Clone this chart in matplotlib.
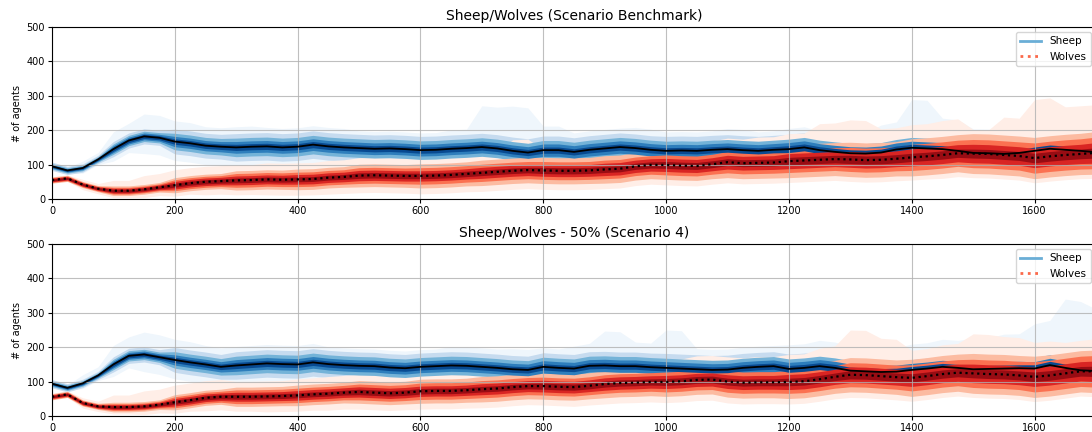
import numpy as np
import matplotlib
matplotlib.use("Agg")
import matplotlib.pyplot as plt
from matplotlib.lines import Line2D

# time steps (every 25 ticks)
steps = list(range(0, 1701, 25))

# medians, top panel (benchmark)
sheep_top = [95, 83, 90, 115, 145, 170, 182, 178, 167, 162,
             155, 152, 150, 152, 153, 150, 152, 158, 153, 150,
             148, 146, 147, 145, 142, 143, 146, 148, 151, 147,
             140, 135, 142, 142, 137, 143, 147, 151, 148, 143,
             140, 141, 140, 143, 145, 142, 140, 143, 145, 150,
             142, 137, 133, 132, 135, 144, 149, 147, 145, 140,
             134, 133, 131, 134, 140, 146, 143, 140, 136]
wolves_top = [55, 60, 42, 30, 24, 24, 28, 34, 40, 46,
              50, 52, 54, 55, 57, 56, 57, 58, 62, 64,
              68, 69, 68, 67, 67, 68, 70, 73, 76, 79,
              82, 84, 83, 82, 82, 83, 86, 88, 95, 99,
              99, 97, 96, 101, 107, 104, 105, 106, 110, 112,
              114, 116, 115, 113, 114, 117, 121, 124, 128, 133,
              132, 131, 128, 125, 119, 124, 128, 131, 134]

# medians, bottom panel (scenario 4)
sheep_bot = [94, 82, 95, 118, 150, 175, 179, 171, 163, 156,
             150, 143, 147, 150, 153, 151, 150, 156, 151, 148,
             146, 145, 141, 139, 143, 145, 147, 146, 143, 140,
             136, 134, 143, 140, 138, 146, 147, 145, 145, 142,
             140, 138, 136, 134, 135, 140, 143, 145, 137, 140,
             145, 140, 132, 130, 128, 129, 134, 138, 143, 140,
             136, 137, 138, 139, 138, 148, 140, 133, 131]
wolves_bot = [56, 63, 38, 28, 26, 26, 28, 33, 40, 46,
              53, 56, 56, 56, 57, 58, 60, 63, 65, 68,
              70, 68, 66, 68, 72, 73, 73, 75, 78, 80,
              84, 87, 87, 85, 84, 88, 93, 96, 97, 99,
              99, 101, 105, 106, 100, 97, 98, 98, 99, 101,
              107, 114, 120, 119, 116, 113, 111, 116, 122, 126,
              124, 122, 121, 118, 114, 118, 124, 130, 130]

# half widths of the inner percentile bands, every 100 ticks (outer -> inner)
sheep_widths = [
    [12, 22, 36, 40, 40, 40, 40, 40, 41, 41, 42, 42, 43, 44, 45, 45, 46, 47],
    [8, 15, 24, 27, 27, 27, 27, 27, 28, 28, 28, 28, 29, 29, 30, 30, 31, 32],
    [5, 10, 15, 17, 17, 17, 17, 17, 18, 18, 18, 18, 19, 19, 19, 20, 20, 21],
    [3, 6, 8, 9, 9, 9, 9, 9, 9, 9, 9, 9, 10, 10, 10, 10, 11, 11],
]
wolves_widths = [
    [9, 14, 22, 28, 30, 33, 35, 37, 38, 40, 42, 45, 48, 50, 54, 58, 60, 62],
    [7, 10, 16, 20, 21, 23, 24, 25, 26, 27, 29, 31, 33, 35, 38, 41, 44, 46],
    [5, 7, 11, 13, 14, 15, 15, 16, 17, 18, 19, 20, 22, 23, 25, 27, 28, 30],
    [3, 4, 6, 7, 7, 8, 8, 8, 9, 9, 10, 10, 11, 12, 12, 13, 14, 15],
]

# faint outermost band, distance above / below the median, every 50 ticks
sheep_top_hi = [8, 20, 50, 65, 60, 55, 60, 55, 55, 55, 50, 50, 50, 55, 120, 130, 70, 55,
                55, 60, 55, 55, 60, 55, 60, 55, 60, 80, 140, 90, 70, 60, 70, 80, 80]
sheep_top_lo = [8, 15, 35, 50, 55, 55, 58, 60, 60, 60, 60, 60, 60, 60, 62, 62, 62, 62,
                62, 62, 64, 64, 64, 64, 65, 65, 65, 66, 66, 66, 68, 68, 68, 70, 70]
wolves_top_hi = [10, 15, 30, 40, 45, 45, 45, 48, 48, 50, 52, 52, 55, 55, 60, 90, 60, 60,
                 60, 62, 65, 68, 70, 75, 80, 105, 115, 90, 95, 100, 70, 110, 170, 140, 140]
wolves_top_lo = [8, 15, 20, 24, 32, 38, 42, 45, 46, 48, 50, 50, 52, 52, 54, 54, 55, 55,
                 56, 56, 58, 58, 60, 60, 62, 62, 64, 64, 66, 68, 70, 70, 72, 72, 74]
sheep_bot_hi = [8, 25, 55, 65, 60, 55, 55, 55, 55, 50, 50, 50, 50, 55, 55, 60, 55, 65,
                100, 70, 110, 60, 60, 60, 70, 75, 70, 70, 75, 80, 90, 100, 130, 200, 180]
sheep_bot_lo = [8, 15, 35, 50, 55, 55, 58, 58, 60, 60, 60, 60, 60, 62, 62, 62, 62, 62,
                64, 64, 64, 64, 64, 65, 65, 65, 66, 66, 66, 68, 68, 68, 70, 70, 70]
wolves_bot_hi = [10, 15, 35, 45, 50, 50, 45, 45, 48, 50, 52, 50, 52, 55, 55, 60, 60, 62,
                 65, 65, 65, 70, 72, 75, 80, 90, 130, 110, 80, 85, 115, 110, 100, 90, 95]
wolves_bot_lo = [8, 15, 20, 24, 32, 38, 42, 45, 46, 48, 50, 50, 52, 52, 54, 54, 55, 56,
                 58, 58, 60, 60, 62, 62, 64, 64, 66, 66, 68, 68, 70, 70, 72, 72, 74]

titles = ["Sheep/Wolves (Scenario Benchmark)", "Sheep/Wolves - 50% (Scenario 4)"]

shade_levels = [0.04, 0.25, 0.48, 0.7, 0.9]  # colormap positions, outer -> inner


def band_edges(med, widths, hi, lo):
    # list of (lower, upper) per level, outer -> inner
    n = len(steps)
    med = np.array(med, dtype=float)
    hi = np.repeat(hi, 2)[:n]
    lo = np.repeat(lo, 2)[:n]
    out = [(np.clip(med - lo, 0, None), med + hi)]
    for w in widths:
        w = np.repeat(w, 4)[:n]
        out.append((np.clip(med - w, 0, None), med + w))
    return out


fig = plt.figure(figsize=(10.92, 4.32), dpi=100)
ax_top = fig.add_axes([0.0476, 0.5394, 0.956, 0.398])
ax_bot = fig.add_axes([0.0476, 0.0370, 0.956, 0.398])

panels = [
    (ax_top, sheep_top, wolves_top, sheep_top_hi, sheep_top_lo, wolves_top_hi, wolves_top_lo),
    (ax_bot, sheep_bot, wolves_bot, sheep_bot_hi, sheep_bot_lo, wolves_bot_hi, wolves_bot_lo),
]

blues = plt.get_cmap("Blues")
reds = plt.get_cmap("Reds")

for (ax, s, w, shi, slo, whi, wlo), title in zip(panels, titles):
    s_bands = band_edges(s, sheep_widths, shi, slo)
    w_bands = band_edges(w, wolves_widths, whi, wlo)
    # sheep level i, then wolves level i-1: the wolves fan sits a bit higher
    nlev = len(shade_levels)
    for i in range(nlev + 1):
        if i < nlev:
            lo_, hi_ = s_bands[i]
            ax.fill_between(steps, lo_, hi_, color=blues(shade_levels[i]), lw=0, zorder=1)
        if i >= 1:
            lo_, hi_ = w_bands[i - 1]
            ax.fill_between(steps, lo_, hi_, color=reds(shade_levels[i - 1]), lw=0, zorder=1)
    ax.plot(steps, s, color="black", lw=1.3, zorder=3)
    ax.plot(steps, w, color="black", lw=1.6, ls=":", zorder=3)

    ax.set_xlim(0, 1700)
    ax.set_ylim(0, 500)
    ax.set_xticks(range(0, 1700, 200))
    ax.set_yticks(range(0, 501, 100))
    ax.tick_params(labelsize=7, length=3, pad=2)
    ax.grid(True, color="#b0b0b0", lw=0.8)
    for gl in ax.get_xgridlines() + ax.get_ygridlines():
        gl.set_zorder(2)
        gl.set_alpha(0.8)
    ax.set_ylabel("# of agents", fontsize=7, labelpad=3)
    ax.set_title(title, fontsize=10, pad=5)

    handles = [Line2D([], [], color=blues(0.5), lw=2),
               Line2D([], [], color=reds(0.5), lw=2, ls=":")]
    ax.legend(handles, ["Sheep", "Wolves"], loc="upper right", fontsize=7.5)

fig.savefig("out.png", dpi=100)
